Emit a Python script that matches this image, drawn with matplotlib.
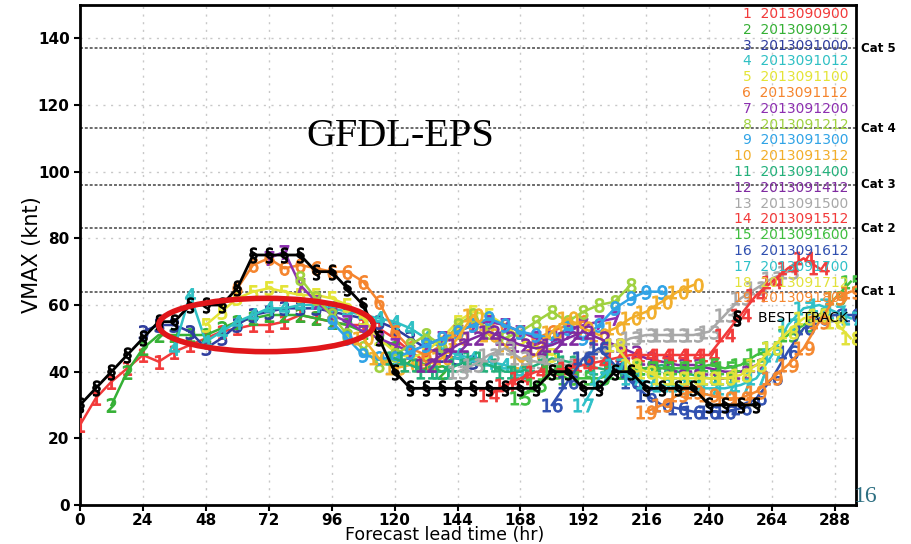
import numpy as np
import matplotlib
matplotlib.use("Agg")
import matplotlib.pyplot as plt
from matplotlib.patches import Ellipse
from matplotlib.transforms import blended_transform_factory

# ---------------- data ----------------
init_labels = ["2013090900", "2013090912", "2013091000", "2013091012", "2013091100",
               "2013091112", "2013091200", "2013091212", "2013091300", "2013091312",
               "2013091400", "2013091412", "2013091500", "2013091512", "2013091600",
               "2013091612", "2013091700", "2013091712", "2013091800"]
member_start = [0, 12, 24, 36, 48, 60, 72, 84, 96, 108, 120, 132, 144, 156, 168, 180, 192, 204, 216]
step_hr = 6

m1 = [24, 32, 37, 41, 45, 43, 46, 48, 50, 52, 53, 54, 54, 55, 57, 56, 55, 54, 54, 53, 50, 46, 43]
m2 = [30, 40, 47, 51, 51, 51, 51, 53, 55, 56, 57, 57, 57, 56, 55, 54, 52, 50, 47, 44, 42, 40]
m3 = [52, 54, 54, 52, 47, 50, 54, 57, 58, 59, 59, 59, 58, 57, 56, 55, 53, 50, 47, 45, 44, 43]
m4 = [47, 63, 49, 52, 55, 57, 59, 59, 60, 60, 59, 58, 57, 56, 55, 53, 50, 47, 45, 44, 43, 42, 40]
m5 = [54, 58, 62, 64, 65, 64, 63, 63, 62, 60, 56, 50, 46, 44, 46, 50, 55, 58, 57, 54, 50, 47, 45]
m6 = [65, 72, 74, 71, 72, 71, 70, 70, 67, 61, 52, 47, 45, 48, 52, 54, 55, 54, 52, 50, 52, 54, 55]
m7 = [74, 76, 66, 61, 57, 55, 52, 50, 48, 46, 48, 50, 52, 54, 55, 54, 52, 50, 50, 52, 54, 55, 56]
m8 = [68, 62, 57, 51, 47, 42, 45, 48, 51, 48, 54, 57, 52, 50, 52, 55, 58, 55, 58, 60, 61, 66]
m9 = [55, 50, 45, 44, 44, 46, 48, 50, 52, 54, 56, 54, 52, 51, 50, 53, 50, 54, 59, 62, 64, 64]
m10 = [50, 44, 41, 42, 42, 44, 50, 57, 51, 48, 43, 45, 52, 56, 53, 51, 53, 56, 58, 61, 64, 66]
m11 = [44, 42, 40, 40, 42, 44, 42, 40, 40, 42, 44, 43, 42, 41, 40, 40, 41, 42, 40, 39, 38, 38]
m12 = [42, 45, 48, 50, 52, 50, 48, 47, 48, 50, 52, 50, 48, 46, 44, 43, 42, 42, 41, 40, 40, 42]
m13 = [40, 42, 45, 47, 44, 43, 42, 42, 44, 46, 48, 50, 51, 51, 51, 51, 52, 57, 62, 65, 68, 70]
m14 = [33, 36, 38, 40, 40, 41, 42, 43, 44, 45, 45, 45, 45, 45, 45, 51, 57, 63, 67, 71, 74, 71]
m15 = [32, 36, 40, 38, 38, 38, 40, 41, 41, 41, 41, 41, 42, 41, 42, 45, 47, 51, 54, 57, 62, 67]
m16 = [30, 37, 44, 47, 42, 37, 33, 30, 29, 28, 28, 28, 29, 32, 38, 46, 53, 56, 57, 57]
m17 = [30, 38, 42, 38, 37, 36, 36, 35, 35, 35, 36, 38, 45, 54, 59, 60, 58, 56]
m18 = [48, 42, 40, 38, 38, 38, 38, 38, 39, 42, 47, 52, 56, 57, 55, 50]
m19 = [28, 30, 33, 34, 33, 32, 32, 34, 38, 42, 47, 55, 62, 64]
members = [m1, m2, m3, m4, m5, m6, m7, m8, m9, m10, m11, m12, m13, m14, m15, m16, m17, m18, m19]

best_track = [30, 35, 40, 45, 50, 55, 55, 60, 60, 60, 65, 75, 75, 75, 75, 70, 70, 65, 60, 50,
              40, 35, 35, 35, 35, 35, 35, 35, 35, 35, 40, 40, 35, 35, 40, 40, 35, 35, 35, 35,
              30, 30, 30, 30]

cat_levels = [64, 83, 96, 113, 137]
cat_names = ["Cat 1", "Cat 2", "Cat 3", "Cat 4", "Cat 5"]
x_ticks = [0, 24, 48, 72, 96, 120, 144, 168, 192, 216, 240, 264, 288]
y_ticks = [0, 20, 40, 60, 80, 100, 120, 140]

colors = ["#f23a3a", "#35b035", "#2f3d9e", "#2fc0c4", "#e4e436", "#f5842d", "#8c2fb0",
          "#9fd13f", "#2fa3e6", "#f2ae2a", "#22b07a", "#7f2aa0", "#a8a8a8", "#f23a3a",
          "#3fbf3f", "#3050b0", "#2fc0c8", "#e2e23a", "#f5882f"]

# ---------------- figure ----------------
L, R, T, B = 80, 856, 5, 505
fig = plt.figure(figsize=(9.11, 5.44), dpi=100)
ax = fig.add_axes([L / 911, 1 - B / 544, (R - L) / 911, (B - T) / 544])
ax.set_xlim(0, 296)
ax.set_ylim(0, 150)

for xt in x_ticks[1:]:
    ax.axvline(xt, color="#c8c8c8", lw=1.0, ls=(0, (1.5, 4)), zorder=0)
for yt in y_ticks[1:]:
    ax.axhline(yt, color="#c8c8c8", lw=1.0, ls=(0, (1.5, 4)), zorder=0)
for lvl in cat_levels:
    ax.axhline(lvl, color="#6a6a6a", lw=1.4, ls=(0, (1.5, 1)), zorder=1)

trans = blended_transform_factory(ax.transAxes, ax.transData)
for lvl, nm in zip(cat_levels, cat_names):
    ax.text(1.007, lvl, nm, transform=trans, fontsize=8.5, fontweight="bold",
            ha="left", va="center", color="black", clip_on=False)

for k, (vals, st) in enumerate(zip(members, member_start)):
    hrs = st + step_hr * np.arange(len(vals))
    lab = str(k + 1)
    ms = 10 if len(lab) == 1 else 14
    ax.plot(hrs, vals, color=colors[k], lw=1.8, marker=f"${lab}$", markersize=ms,
            markeredgewidth=0.7, zorder=3, clip_on=True)

bt_hrs = step_hr * np.arange(len(best_track))
ax.plot(bt_hrs, best_track, color="black", lw=2.0, marker=r"$\S$", markersize=11,
        markeredgewidth=0.8, zorder=5)

# ellipse highlight
ax.add_patch(Ellipse((71, 54), 82, 16.0, fill=False, edgecolor="#e0161a", lw=4, zorder=6))

# legend text
H = B - T
for k, lab in enumerate(init_labels):
    ypx = 14 + 15.8 * k
    ax.text(0.99, (B - ypx) / H, f"{k + 1}  {lab}", transform=ax.transAxes,
            ha="right", va="center", fontsize=10, color=colors[k], zorder=7)
ax.text(0.99, (B - 318) / H, "BEST  TRACK", transform=ax.transAxes, ha="right",
        va="center", fontsize=10, color="black", zorder=7)
ax.plot([0.847], [(B - 318) / H], transform=ax.transAxes, marker=r"$\S$",
        markersize=11, color="black", zorder=7, clip_on=False)

ax.text(122, 110.5, "GFDL-EPS", fontsize=29, family="Liberation Serif",
        ha="center", va="center", color="black", zorder=7)

fig.text(866 / 911, 1 - 497 / 544, "16", fontsize=17, family="Liberation Serif",
         color="#2d6f82", ha="center", va="center")

ax.set_xticks(x_ticks)
ax.set_yticks(y_ticks)
ax.tick_params(axis="both", labelsize=11, width=1.5, length=4, direction="out")
ax.tick_params(axis="x", pad=1.5)
for t in ax.get_xticklabels() + ax.get_yticklabels():
    t.set_fontweight("bold")
for s in ax.spines.values():
    s.set_linewidth(2)

ax.set_ylabel("VMAX (knt)", fontsize=15)
ax.yaxis.set_label_coords(-(L - 42) / (R - L), 0.5)
fig.text(0.488, 0.0, "Forecast lead time (hr)", fontsize=12.5, ha="center", va="bottom")

fig.savefig("out.png", dpi=100)
